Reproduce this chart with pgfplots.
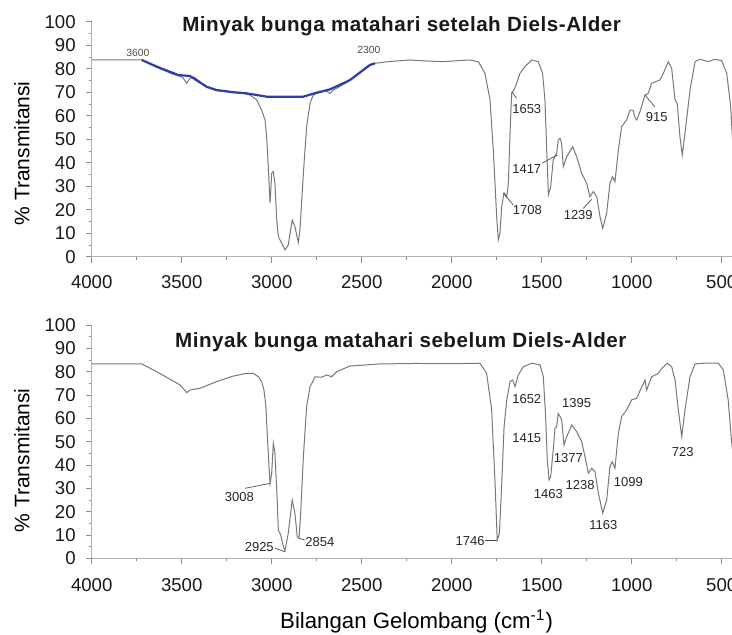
\documentclass[border=0pt]{standalone}
\usepackage{fontspec}
\setmainfont{Liberation Sans}
\newfontfamily\titlefont[LetterSpace=2.5]{Liberation Sans}
\usepackage{pgfplots}
\pgfplotsset{compat=1.18}
\usepackage{pgfplotstable}
\definecolor{spec}{RGB}{120,120,120}
\definecolor{bline}{RGB}{45,62,170}

\pgfplotstableread{
w T
4000 83.7
3900 83.8
3800 83.7
3722 83.7
3639 80.6
3560 78.0
3519 77.0
3495 76.3
3472 73.8
3454 75.9
3430 76.4
3361 72.1
3306 70.7
3213 69.8
3150 69.4
3121 68.8
3083 66.7
3056 62.4
3037 58.2
3028 51.1
3019 38.3
3009 22.7
3000 35.5
2991 36.2
2982 31.2
2972 15.6
2963 8.5
2944 5.7
2926 2.9
2908 5.0
2886 15.6
2871 12.8
2852 6.0
2843 11.4
2824 35.5
2806 55.3
2787 65.3
2769 68.8
2750 69.5
2700 70.6
2676 69.5
2660 70.8
2620 72.5
2583 74.2
2565 75.0
2500 78.8
2454 81.4
2426 82.3
2350 83.0
2232 83.7
2150 83.3
2048 83.0
1950 83.5
1898 83.7
1852 83.0
1815 78.0
1787 66.7
1769 45.4
1750 17.0
1741 7.1
1732 10.0
1722 21.3
1709 27.2
1694 25.5
1685 31.2
1676 52.5
1667 69.5
1654 70.9
1639 73.8
1621 78.0
1593 80.9
1556 83.7
1519 83.0
1495 78.0
1482 66.7
1472 45.4
1463 26.3
1450 29.8
1436 41.1
1417 44.0
1408 49.7
1398 50.4
1389 48.3
1380 38.3
1361 42.6
1328 46.8
1306 42.6
1278 35.5
1250 31.2
1232 25.5
1213 27.7
1194 25.5
1176 17.0
1161 12.1
1139 18.5
1121 31.2
1106 34.0
1093 31.9
1074 45.4
1056 55.3
1028 58.2
1009 62.4
994 62.4
980 59.0
972 58.2
954 61.7
926 68.8
908 69.5
889 73.8
843 75.2
824 78.0
797 83.0
778 80.2
759 66.7
747 65.3
732 51.1
719 43.3
704 52.5
676 70.9
648 83.0
621 84.0
574 83.0
537 84.0
500 83.4
472 78.0
450 63.8
440 50.0
}\topdata

\pgfplotstableread{
w T
3722 83.7
3639 80.9
3519 77.3
3454 76.9
3361 72.3
3306 70.9
3213 70.0
3139 69.5
3028 68.1
2824 68.1
2750 69.8
2676 71.2
2583 74.5
2565 75.2
2454 81.6
2426 82.3
}\blueline

\pgfplotstableread{
w T
4000 83.3
3722 83.3
3639 80.0
3509 74.3
3472 71.0
3454 72.1
3398 72.9
3306 75.7
3213 78.1
3139 79.3
3102 79.3
3074 77.8
3056 75.7
3043 72.1
3032 65.0
3025 53.6
3015 39.3
3009 32.1
3000 36.4
2991 49.3
2982 45.0
2972 29.3
2963 12.1
2950 10.0
2935 5.0
2926 3.3
2908 10.7
2886 25.0
2871 19.3
2858 9.3
2848 8.6
2839 19.3
2824 43.5
2806 65.0
2787 73.5
2759 77.8
2722 77.6
2694 78.6
2667 77.8
2639 80.0
2565 82.4
2400 83.3
2200 83.5
2000 83.4
1843 83.6
1806 79.3
1778 63.6
1759 32.1
1747 7.8
1735 10.7
1722 32.1
1709 56.4
1694 67.9
1676 75.7
1661 76.4
1648 73.5
1630 78.6
1602 82.1
1556 83.6
1509 82.9
1491 77.8
1478 60.7
1469 42.1
1459 33.6
1450 35.0
1436 46.4
1426 55.7
1417 56.4
1408 62.1
1398 60.7
1389 59.3
1376 48.6
1361 52.1
1333 57.1
1306 54.3
1278 50.0
1259 43.5
1241 36.4
1222 38.6
1204 37.1
1185 27.9
1161 19.3
1139 25.0
1121 39.3
1108 41.4
1093 38.6
1074 53.6
1056 60.7
1028 63.6
1000 67.9
972 68.6
944 73.5
926 76.4
917 72.1
889 77.8
852 79.3
833 81.4
802 83.6
778 82.1
759 76.4
741 63.6
722 52.1
704 63.6
676 77.8
648 83.3
602 83.6
519 83.6
491 80.7
464 67.9
446 50.7
440 47.0
}\botdata

\tikzset{
  ann/.style={font=\fontsize{6.5}{7}\selectfont, text=black!85, inner sep=0pt},
  lead/.style={black!70, line width=0.35pt},
  ttl/.style={font=\titlefont\bfseries\fontsize{10.3}{12}\selectfont, text=black!90, anchor=base},
}
\pgfplotsset{
  irstyle/.style={
    scale only axis, width=320.4pt,
    xmin=440, xmax=4000, x dir=reverse,
    ymin=0, ymax=100,
    xtick={4000,3500,...,500}, ytick={0,10,...,100},
    minor x tick num=1, minor y tick num=1,
    scaled x ticks=false, scaled y ticks=false,
    axis x line*=bottom, axis y line*=left,
    axis line style={draw=black!30, line width=0.5pt},
    tick align=outside, major tick length=3pt, minor tick length=1.5pt,
    every tick/.style={black!45, line width=0.4pt},
    tick label style={font=\fontsize{9.3}{10}\selectfont, text=black!90},
    /pgf/number format/assume math mode=true,
    /pgf/number format/1000 sep={},
    xticklabel style={yshift=-3pt},
    yticklabel style={xshift=-1.5pt},
    clip=false,
    ylabel={\% Transmitansi},
    every axis y label/.style={at={(axis description cs:-0.109,0.44)}, rotate=90, anchor=center, font=\fontsize{10.5}{12}\selectfont},
  },
}

\begin{document}
\begin{tikzpicture}
\begin{axis}[irstyle, height=117.5pt]
\addplot[spec, line width=0.5pt] table[x=w, y=T] {\topdata};
\addplot[bline, line width=1.1pt] table[x=w, y=T] {\blueline};
\node[ttl] at (axis cs:2278,95.7) {Minyak bunga matahari setelah Diels-Alder};
\node[font=\fontsize{5.2}{6}\selectfont, text=black!70, inner sep=0pt] at (axis cs:3743,86.8) {3600};
\node[font=\fontsize{5.2}{6}\selectfont, text=black!70, inner sep=0pt] at (axis cs:2460,88.0) {2300};
\node[ann] at (axis cs:1583,62.7) {1653};
\node[ann] at (axis cs:1583,37.2) {1417};
\node[ann] at (axis cs:1580,19.9) {1708};
\node[ann] at (axis cs:1297,17.7) {1239};
\node[ann] at (axis cs:861,59.6) {915};
\draw[lead] (axis cs:1667,70.2) -- (axis cs:1639,67.4);
\draw[lead] (axis cs:1500,39.7) -- (axis cs:1413,43.3);
\draw[lead] (axis cs:1713,27.0) -- (axis cs:1658,22.0);
\draw[lead] (axis cs:1269,20.6) -- (axis cs:1222,24.4);
\draw[lead] (axis cs:926,68.8) -- (axis cs:872,63.8);
\end{axis}
\begin{axis}[irstyle, height=116.67pt, at={(0pt,-150.8pt)},
  xlabel={Bilangan Gelombang (cm\textsuperscript{-1})},
  every axis x label/.style={at={(axis description cs:0.507,-0.302)}, anchor=base, font=\fontsize{11.1}{13}\selectfont},
  every axis y label/.style={at={(axis description cs:-0.109,0.42)}, rotate=90, anchor=center, font=\fontsize{10.5}{12}\selectfont},
  xticklabel style={yshift=-0.8pt}]
\addplot[spec, line width=0.5pt] table[x=w, y=T] {\botdata};
\node[ttl] at (axis cs:2283,90.3) {Minyak bunga matahari sebelum Diels-Alder};
\node[ann] at (axis cs:1583,68.2) {1652};
\node[ann] at (axis cs:1306,66.7) {1395};
\node[ann] at (axis cs:1583,51.4) {1415};
\node[ann] at (axis cs:1352,42.9) {1377};
\node[ann] at (axis cs:1463,27.6) {1463};
\node[ann] at (axis cs:1287,31.4) {1238};
\node[ann] at (axis cs:1019,32.8) {1099};
\node[ann] at (axis cs:1157,14.3) {1163};
\node[ann] at (axis cs:717,45.7) {723};
\node[ann] at (axis cs:1898,7.5) {1746};
\node[ann] at (axis cs:3180,26.4) {3008};
\node[ann] at (axis cs:3069,4.7) {2925};
\node[ann] at (axis cs:2732,7.1) {2854};
\draw[lead] (axis cs:1815,7.8) -- (axis cs:1750,7.8);
\draw[lead] (axis cs:3148,30.0) -- (axis cs:3009,32.1);
\draw[lead] (axis cs:2982,4.3) -- (axis cs:2926,2.8);
\draw[lead] (axis cs:2848,8.6) -- (axis cs:2815,7.8);
\end{axis}
\pgfresetboundingbox
\path[use as bounding box] (-45.85pt,-189.15pt) rectangle (320.15pt,128.35pt);
\end{tikzpicture}
\end{document}
